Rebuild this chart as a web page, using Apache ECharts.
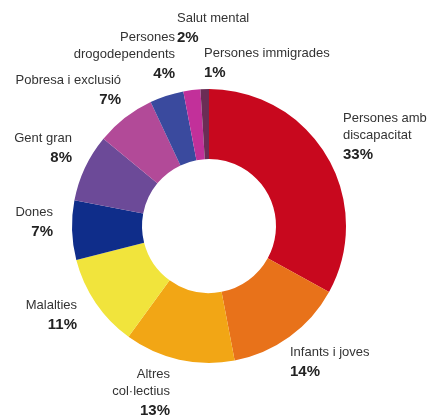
<!DOCTYPE html>
<html>
<head>
<meta charset="utf-8">
<script src="https://cdn.jsdelivr.net/npm/echarts@6/dist/echarts.min.js"></script>
<style>
  html, body { margin: 0; padding: 0; background: #fff; }
  #chart { width: 431px; height: 416px; }
</style>
</head>
<body>
<div id="chart"></div>
<script>
  // dades
  const categories = [
    'Persones amb\ndiscapacitat', 'Infants i joves', 'Altres\ncol·lectius', 'Malalties',
    'Dones', 'Gent gran', 'Pobresa i exclusió', 'Persones\ndrogodependents',
    'Salut mental', 'Persones immigrades'
  ];
  const values = [33, 14, 13, 11, 7, 8, 7, 4, 2, 1];
  const colors = [
    '#c8081e', '#e8721a', '#f2a615', '#f1e43c', '#0f2d8a',
    '#6c4a98', '#b24a98', '#3a4a9e', '#c2309a', '#6b2d55'
  ];

  // posicio de cada etiqueta: [x, y (dalt), alineacio]
  const labelPos = [
    [343, 110, 'left'], [290, 344, 'left'], [170, 366, 'right'], [77, 297, 'right'],
    [53, 204, 'right'], [72, 130, 'right'], [121, 72, 'right'], [175, 29, 'right'],
    [177, 10, 'left'], [204, 45, 'left']
  ];

  const chart = echarts.init(document.getElementById('chart'));
  chart.setOption({
    animation: false,
    textStyle: { fontFamily: '"Liberation Sans", Arial, sans-serif' },
    series: [{
      type: 'pie',
      center: [209, 226],
      radius: [67, 137],
      startAngle: 90,
      clockwise: true,
      avoidLabelOverlap: false,
      data: categories.map((c, i) => ({
        name: c, value: values[i], itemStyle: { color: colors[i] }
      })),
      label: {
        show: true,
        position: 'outside',
        formatter: p => p.name.split('\n').map(s => '{n|' + s + '}').join('\n') + '\n{p|' + p.value + '%}',
        rich: {
          n: { fontSize: 13, lineHeight: 17, color: '#333' },
          p: { fontSize: 15, lineHeight: 21, fontWeight: 'bold', color: '#222' }
        }
      },
      labelLine: { show: false },
      labelLayout: params => {
        const lp = labelPos[params.dataIndex];
        return { x: lp[0], y: lp[1], align: lp[2], verticalAlign: 'top', hideOverlap: false };
      }
    }]
  });
</script>
</body>
</html>
